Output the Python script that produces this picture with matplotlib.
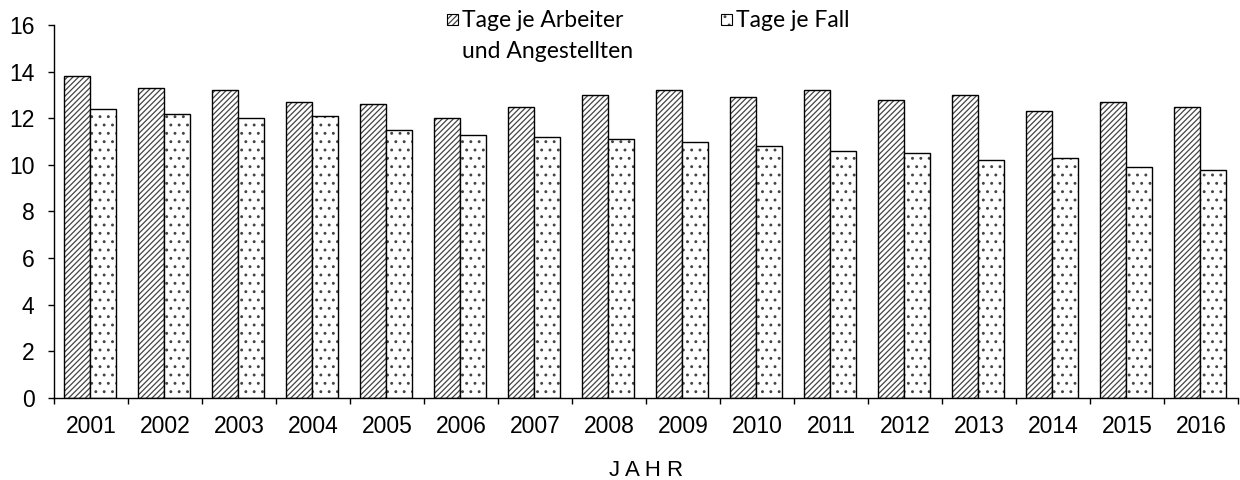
import numpy as np
import matplotlib
matplotlib.use("Agg")
import matplotlib.pyplot as plt
from matplotlib.patches import Rectangle

# data
years = ['2001', '2002', '2003', '2004', '2005', '2006', '2007', '2008',
         '2009', '2010', '2011', '2012', '2013', '2014', '2015', '2016']
tage_je_arbeiter = [13.8, 13.3, 13.2, 12.7, 12.6, 12.0, 12.5, 13.0,
                    13.2, 12.9, 13.2, 12.8, 13.0, 12.3, 12.7, 12.5]
tage_je_fall = [12.4, 12.2, 12.0, 12.1, 11.5, 11.3, 11.2, 11.1,
                11.0, 10.8, 10.6, 10.5, 10.2, 10.3, 9.9, 9.8]
label_arbeiter = "Tage je Arbeiter\nund Angestellten"
label_fall = "Tage je Fall"
y_ticks = [0, 2, 4, 6, 8, 10, 12, 14, 16]

plt.rcParams['hatch.linewidth'] = 0.9
plt.rcParams['font.family'] = ['Liberation Sans', 'DejaVu Sans']

HATCH_A = '//////'
HATCH_B = '..'
HATCH_COLOR = '#444444'

fig = plt.figure(figsize=(12.4, 4.8), dpi=100)
ax = fig.add_axes([54 / 1240, 82 / 480, 1184 / 1240, 373 / 480])

x = np.arange(len(years))
bar_w = 0.35
for offset, values, hatch in [(-bar_w / 2, tage_je_arbeiter, HATCH_A),
                              (bar_w / 2, tage_je_fall, HATCH_B)]:
    # hatch pass in gray, then a black outline on top
    ax.bar(x + offset - 0.01, values, width=bar_w, color='white',
           edgecolor=HATCH_COLOR, linewidth=0, hatch=hatch)
    ax.bar(x + offset - 0.01, values, width=bar_w, fill=False,
           edgecolor='black', linewidth=1.0)

ax.set_xlim(-0.5, len(years) - 0.5)
ax.set_ylim(0, 16)
ax.set_yticks(y_ticks)
ax.tick_params(axis='y', length=4, width=1.0, pad=10, labelsize=16.5)

# year labels centred, tick marks on the category boundaries
ax.set_xticks(x)
ax.set_xticklabels(years)
ax.set_xticks(np.arange(-0.5, len(years)), minor=True)
ax.tick_params(axis='x', which='major', length=0, pad=12, labelsize=16.5)
ax.tick_params(axis='x', which='minor', length=4, width=1.0)

for side in ['top', 'right']:
    ax.spines[side].set_visible(False)
for side in ['left', 'bottom']:
    ax.spines[side].set_linewidth(1.0)

ax.set_xlabel("J A H R", fontsize=16, labelpad=16)

# legend drawn by hand so the swatch sits on the first text line
legend_font = ['Lato', 'DejaVu Sans']
sw = 11
for px, label, hatch in [(447, label_arbeiter, HATCH_A), (721, label_fall, HATCH_B)]:
    fig.add_artist(Rectangle((px / 1240, (480 - 25) / 480), sw / 1240, sw / 480,
                             transform=fig.transFigure, facecolor='white',
                             edgecolor=HATCH_COLOR, linewidth=0, hatch=hatch))
    fig.add_artist(Rectangle((px / 1240, (480 - 25) / 480), sw / 1240, sw / 480,
                             transform=fig.transFigure, fill=False,
                             edgecolor='black', linewidth=0.8))
    fig.text((px + 15) / 1240, (480 - 10) / 480, label, ha='left', va='top',
             fontsize=16.5, family=legend_font, linespacing=1.6)

fig.savefig("out.png", dpi=100)
